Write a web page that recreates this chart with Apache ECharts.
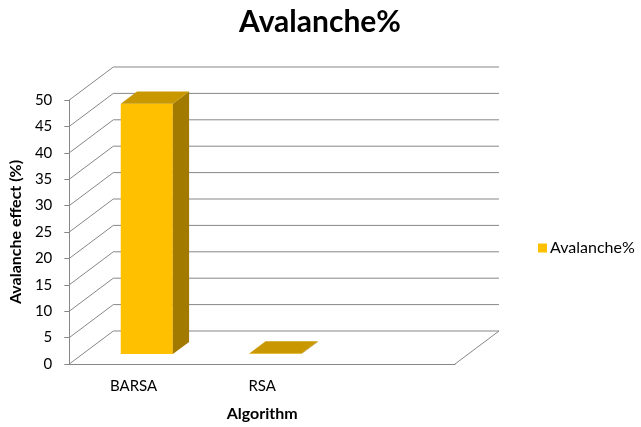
<!DOCTYPE html>
<html><head><meta charset="utf-8">
<script src="https://cdn.jsdelivr.net/npm/echarts@6/dist/echarts.min.js"></script>
<style>html,body{margin:0;padding:0;background:#fff}#c{width:641px;height:427px}</style>
</head><body><div id="c"></div>
<script>
var categories = ['BARSA', 'RSA', ''];
var avalanche = [47.4, 0.1, null];
var yTicks = [0, 5, 10, 15, 20, 25, 30, 35, 40, 45, 50];

var DX = 44, DY = -33;       // depth projection (pixels)
var D0 = 0.30, D1 = 0.67;    // bar depth range
var GRID = '#878787';
var FONT = 'Lato';

var chart = echarts.init(document.getElementById('c'));

function frameItem(params, api) {
  var cs = params.coordSys;
  var v = api.value(1);
  var y = api.coord([0, v])[1];
  var x0 = cs.x, x1 = cs.x + cs.width;
  var children = [
    {type: 'line', shape: {x1: x0, y1: y, x2: x0 + DX, y2: y + DY}, style: {stroke: GRID, lineWidth: 1}},
    {type: 'line', shape: {x1: x0 + DX, y1: y + DY, x2: x1 + DX, y2: y + DY}, style: {stroke: GRID, lineWidth: 1}}
  ];
  if (v === 0) {
    children.push({type: 'line', shape: {x1: x1, y1: y, x2: x1 + DX, y2: y + DY}, style: {stroke: GRID, lineWidth: 1}});
  }
  return {type: 'group', children: children, silent: true};
}

function barItem(params, api) {
  var v = api.value(1);
  if (v == null || isNaN(v)) return;
  var base = api.coord([api.value(0), 0]);
  var top = api.coord([api.value(0), v]);
  var band = api.size([1, 0])[0];
  var w = band * 0.405;
  var xl = base[0] - w / 2, xr = base[0] + w / 2;
  var fx = D0 * DX, fy = D0 * DY, bx = D1 * DX, by = D1 * DY;
  var yt = top[1], yb = base[1];
  var ch = [];
  if (yb - yt > 0.5) {
    ch.push({type: 'polygon', shape: {points: [[xl + fx, yt + fy], [xr + fx, yt + fy], [xr + fx, yb + fy], [xl + fx, yb + fy]]}, style: {fill: '#FFC000'}});
    ch.push({type: 'polygon', shape: {points: [[xr + fx, yt + fy], [xr + bx, yt + by], [xr + bx, yb + by], [xr + fx, yb + fy]]}, style: {fill: '#A27A00'}});
  }
  ch.push({type: 'polygon', shape: {points: [[xl + fx, yt + fy], [xr + fx, yt + fy], [xr + bx, yt + by], [xl + bx, yt + by]]}, style: {fill: '#C99800'}});
  return {type: 'group', children: ch};
}

chart.setOption({
  animation: false,
  backgroundColor: '#fff',
  title: {
    text: 'Avalanche%', left: 315, top: 2, textAlign: 'center',
    textStyle: {fontFamily: FONT, fontSize: 30, fontWeight: 'bold', color: '#000'}
  },
  legend: {
    left: 533, top: 235, itemWidth: 9, itemHeight: 9, itemGap: 4,
    icon: 'rect',
    textStyle: {fontFamily: FONT, fontSize: 16, color: '#000', padding: [0, 0, 0, -2]},
    data: ['Avalanche%']
  },
  grid: {left: 68, right: 186, top: 100, bottom: 58},
  xAxis: {
    type: 'category', data: categories,
    name: 'Algorithm', nameLocation: 'middle', nameGap: 42,
    nameTextStyle: {fontFamily: FONT, fontSize: 16, fontWeight: 'bold', color: '#000'},
    axisLine: {lineStyle: {color: GRID}},
    axisTick: {alignWithLabel: false, length: 5, lineStyle: {color: GRID}},
    axisLabel: {fontFamily: FONT, fontSize: 15, color: '#000', margin: 15},
    splitLine: {show: false}
  },
  yAxis: {
    type: 'value', min: 0, max: 50, interval: 5,
    name: 'Avalanche effect (%)', nameLocation: 'middle', nameGap: 45,
    nameTextStyle: {fontFamily: FONT, fontSize: 16, fontWeight: 'bold', color: '#000'},
    axisLine: {show: true, lineStyle: {color: GRID}},
    axisTick: {show: true, length: 5, lineStyle: {color: GRID}},
    axisLabel: {fontFamily: FONT, fontSize: 15, color: '#000', margin: 17},
    splitLine: {show: false}
  },
  series: [
    {
      name: 'frame', type: 'custom', renderItem: frameItem, clip: false, silent: true, z: 1,
      data: yTicks.map(function (t) { return [0, t]; })
    },
    {
      name: 'Avalanche%', type: 'custom', renderItem: barItem, clip: false, z: 2,
      itemStyle: {color: '#FFC000'},
      encode: {x: 0, y: 1},
      data: avalanche.map(function (v, i) { return [i, v]; })
    }
  ]
});
</script></body></html>
